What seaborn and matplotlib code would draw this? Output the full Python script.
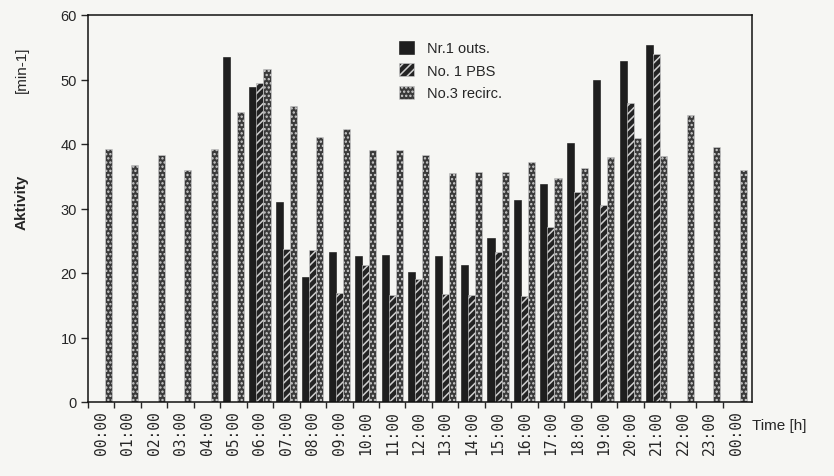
import numpy as np
import pandas as pd
import matplotlib
matplotlib.use('Agg')
import matplotlib.pyplot as plt
import seaborn as sns
from matplotlib.patches import Patch

#---------------------------------------------------------
hours=['00:00','01:00','02:00','03:00','04:00','05:00','06:00','07:00','08:00',
	'09:00','10:00','11:00','12:00','13:00','14:00','15:00','16:00','17:00',
	'18:00','19:00','20:00','21:00','22:00','23:00','00:00']
series=['Nr.1 outs.', 'No. 1 PBS', 'No.3 recirc.']
nan=np.nan
outs=[nan,nan,nan,nan,nan,53.5,48.8,31.0,19.4,23.2,22.6,22.8,20.2,22.7,21.2,25.5,
	31.3,33.8,40.1,50.0,52.8,55.4,nan,nan,nan]
pbs=[nan,nan,nan,nan,nan,nan,49.5,23.7,23.6,16.9,21.3,16.6,19.1,16.7,16.6,23.2,
	16.5,27.1,32.5,30.5,46.4,54.0,nan,nan,nan]
recirc=[39.2,36.7,38.3,36.0,39.2,45.0,51.6,45.9,41.1,42.3,39.1,39.1,38.3,35.5,35.7,
	35.6,37.2,34.7,36.3,38.0,40.9,38.2,44.5,39.5,36.0]
faces=['#1e1e1e', '#242424', '#3a3a3a']
hatches=['', '////', '....']
bg='#f6f6f3'

#--------------------------------------------------------
rows=[]
for s, vals in zip(series, [outs, pbs, recirc]):
	for i, v in enumerate(vals):
		rows.append({'slot': i, 'series': s, 'val': v})
df=pd.DataFrame(rows)

sns.set_style('ticks')
plt.rcParams['font.family']=['Liberation Sans', 'DejaVu Sans']
plt.rcParams['hatch.linewidth']=1.1

def style_patch(p, fc, h):
	p.set_facecolor(fc)
	p.set_hatch(h)
	if h and hasattr(p, 'set_hatchcolor'):
		p.set_edgecolor('#111111')
		p.set_hatchcolor('#d0d0d0')
	else:
		p.set_edgecolor('#d0d0d0' if h else '#111111')
	p.set_linewidth(0.4)

fig=plt.figure(figsize=(8.34, 4.77), dpi=100, facecolor=bg)
ax=fig.add_axes([88/834, 74/477, 664/834, 387/477])
ax.set_facecolor(bg)
sns.barplot(data=df, x='slot', y='val', hue='series', hue_order=series,
	order=list(range(len(hours))), palette=faces, width=0.8, ax=ax, legend=False)

for cont, fc, h in zip(ax.containers, faces, hatches):
	for p in cont.patches:
		style_patch(p, fc, h)

#axes
ax.set_xlim(-0.34, 24.6)
ax.set_ylim(0, 60)
ax.set_yticks(range(0, 61, 10))
ax.tick_params(axis='y', labelsize=10.5, length=5, width=1, direction='out', pad=3)
ax.set_xticks(range(len(hours)))
ax.set_xticklabels(hours, rotation=90, fontsize=10.5, family='DejaVu Sans Mono')
ax.set_xticks(np.arange(len(hours))-0.5, minor=True)
ax.tick_params(axis='x', which='major', length=0, pad=6)
ax.tick_params(axis='x', which='minor', length=4, width=1, direction='out')
for sp in ax.spines.values():
	sp.set_visible(True)
	sp.set_linewidth(1.1)
	sp.set_color('#111111')
ax.set_xlabel('')
ax.set_ylabel('')

#labels
fig.text(22/834, 1-202/477, 'Aktivity', rotation=90, ha='center', va='center',
	fontsize=11, weight='bold')
fig.text(22/834, 1-70/477, '[min-1]', rotation=90, ha='center', va='center',
	fontsize=11)
fig.text(752/834, 1-426/477, 'Time [h]', ha='left', va='center', fontsize=11)

#legend
handles=[]
for fc, h in zip(faces, hatches):
	hp=Patch()
	style_patch(hp, fc, h)
	handles.append(hp)
ax.legend(handles, series, loc='upper left', bbox_to_anchor=(0.458, 0.952), frameon=False,
	fontsize=10.5, handlelength=1.0, handleheight=1.0, handletextpad=0.9,
	labelspacing=0.55, borderpad=0)

plt.savefig('out.png', dpi=100, facecolor=bg)
plt.close()
